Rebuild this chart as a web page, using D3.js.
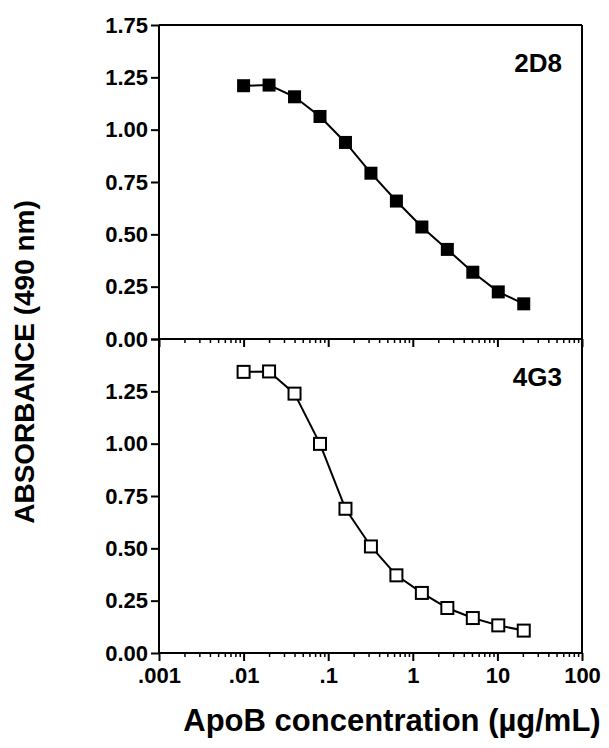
<!DOCTYPE html>
<html>
<head>
<meta charset="utf-8">
<script src="https://cdn.jsdelivr.net/npm/d3@7"></script>
<style>
  html, body { margin: 0; padding: 0; background: #fff; }
  svg { display: block; }
  text { font-family: "Liberation Sans", Arial, Helvetica, sans-serif; font-weight: bold; fill: #000; }
</style>
</head>
<body>
<svg id="chart" width="609" height="748"></svg>
<script>
// ---- data ----
const concentrations = [0.01, 0.02, 0.04, 0.08, 0.16, 0.32, 0.64, 1.28, 2.56, 5.12, 10.24, 20.48];
const abs2D8 = [1.21, 1.213, 1.157, 1.063, 0.939, 0.792, 0.659, 0.535, 0.428, 0.319, 0.225, 0.168];
const abs4G3 = [1.343, 1.345, 1.239, 0.999, 0.689, 0.509, 0.371, 0.287, 0.215, 0.167, 0.132, 0.107];
const xTickValues = [0.001, 0.01, 0.1, 1, 10, 100];
const xTickLabels = [".001", ".01", ".1", "1", "10", "100"];
const yTickValues = [0, 0.25, 0.5, 0.75, 1.0, 1.25, 1.5];
const yTopTickLabels = ["0.00", "0.25", "0.50", "0.75", "1.00", "1.25", "1.75"];
const yBotTickLabels = ["0.00", "0.25", "0.50", "0.75", "1.00", "1.25", ""];
const panelNames = ["2D8", "4G3"];
const xTitle = "ApoB concentration (\u00b5g/mL)";
const yTitle = "ABSORBANCE (490 nm)";

// ---- layout ----
const svg = d3.select("#chart");
const left = 159, right = 582;
const topTop = 25, topBottom = 339, botBottom = 653;

const x = d3.scaleLog().domain([0.001, 100]).range([left, right]);
const yTop = d3.scaleLinear().domain([0, 1.5]).range([topBottom, topTop]);
const yBot = d3.scaleLinear().domain([0, 1.5]).range([botBottom, topBottom]);

const minorTicks = [];
for (let e = -3; e < 2; e++) {
  for (let m = 2; m <= 9; m++) minorTicks.push(m * Math.pow(10, e));
}

function styleAxis(g) {
  g.selectAll(".domain").attr("stroke", "#000").attr("stroke-width", 2);
  g.selectAll(".tick line").attr("stroke", "#000").attr("stroke-width", 2);
}

function drawPanel(y, yLabels, showXLabels, data, filled, name, isTop) {
  // y axis
  const ya = svg.append("g").attr("transform", `translate(${left},0)`)
    .call(d3.axisLeft(y).tickValues(yTickValues).tickSize(8).tickPadding(3)
      .tickFormat((d, i) => yLabels[i]));
  styleAxis(ya);
  ya.selectAll(".domain").attr("d", `M0,${y.range()[0]}V${y.range()[1]}`);
  ya.selectAll("text").style("font-size", "22px");

  // right border
  svg.append("line").attr("x1", right).attr("x2", right)
    .attr("y1", y.range()[0]).attr("y2", y.range()[1])
    .attr("stroke", "#000").attr("stroke-width", 2);
  if (isTop) {
    svg.append("line").attr("x1", left).attr("x2", right)
      .attr("y1", y.range()[1]).attr("y2", y.range()[1])
      .attr("stroke", "#000").attr("stroke-width", 2);
  }

  // x minor ticks
  const xm = svg.append("g").attr("transform", `translate(0,${y.range()[0]})`)
    .call(d3.axisBottom(x).tickValues(minorTicks).tickSize(4).tickFormat(""));
  styleAxis(xm);
  xm.selectAll(".domain").remove();
  xm.selectAll(".tick line").attr("stroke-width", 1.5);

  // x major axis
  const xa = svg.append("g").attr("transform", `translate(0,${y.range()[0]})`)
    .call(d3.axisBottom(x).tickValues(xTickValues).tickSize(8).tickPadding(6)
      .tickFormat((d, i) => showXLabels ? xTickLabels[i] : ""));
  styleAxis(xa);
  xa.selectAll(".domain").attr("d", `M${left},0H${right}`);
  xa.selectAll("text").style("font-size", "22px");

  // line
  const pts = concentrations.map((c, i) => [c, data[i]]);
  svg.append("path").datum(pts)
    .attr("fill", "none").attr("stroke", "#000").attr("stroke-width", 2)
    .attr("d", d3.line().x(d => x(d[0])).y(d => y(d[1])));

  // markers
  const s = filled ? 13 : 12;
  svg.append("g").selectAll("rect").data(pts).join("rect")
    .attr("x", d => x(d[0]) - s / 2).attr("y", d => y(d[1]) - s / 2)
    .attr("width", s).attr("height", s)
    .attr("fill", filled ? "#000" : "#fff")
    .attr("stroke", "#000").attr("stroke-width", filled ? 0 : 2);

  // panel label
  svg.append("text").attr("x", 562).attr("y", y(1.5) + 47)
    .attr("text-anchor", "end").style("font-size", "26px").text(name);
}

drawPanel(yTop, yTopTickLabels, false, abs2D8, true, panelNames[0], true);
drawPanel(yBot, yBotTickLabels, true, abs4G3, false, panelNames[1], false);

// axis titles
svg.append("text").attr("x", 392).attr("y", 731)
  .attr("text-anchor", "middle").style("font-size", "31px").text(xTitle);
svg.append("text").attr("transform", "translate(34,362) rotate(-90)")
  .attr("text-anchor", "middle").style("font-size", "28px").text(yTitle);
</script>
</body>
</html>
